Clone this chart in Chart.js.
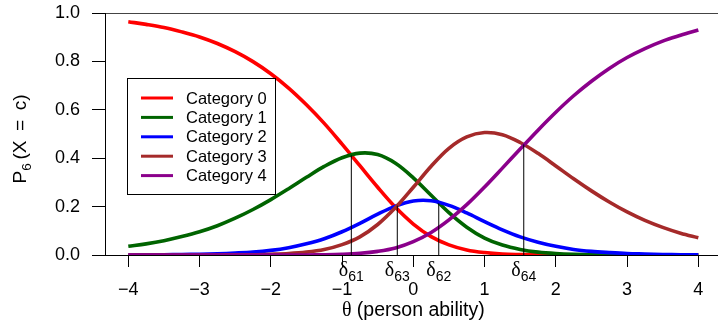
<!DOCTYPE html>
<html>
<head>
<meta charset="utf-8">
<script src="https://cdn.jsdelivr.net/npm/chart.js@4.4.1/dist/chart.umd.min.js"></script>
<style>
  html, body { margin: 0; padding: 0; background: #fff; overflow: hidden; }
  #wrap { width: 718px; height: 326px; }
</style>
</head>
<body>
<div id="wrap"><canvas id="pcmChart" width="718" height="326"></canvas></div>
<script>
// ability grid (theta) and category probabilities
var theta = [-4, -3.75, -3.5, -3.25, -3, -2.75, -2.5, -2.25, -2, -1.75, -1.5, -1.25, -1, -0.75, -0.5, -0.25,
             0, 0.25, 0.5, 0.75, 1, 1.25, 1.5, 1.75, 2, 2.25, 2.5, 2.75, 3, 3.25, 3.5, 3.75, 4];

var cat0 = [0.964, 0.953, 0.940, 0.922, 0.901, 0.874, 0.840, 0.799, 0.749, 0.690, 0.621, 0.544, 0.458, 0.369, 0.280, 0.197,
            0.128, 0.076, 0.042, 0.021, 0.010, 0.004, 0.002, 0.001, 0.000, 0.000, 0.000, 0.000, 0.000, 0.000, 0.000, 0.000, 0.000];
var cat1 = [0.036, 0.046, 0.059, 0.076, 0.096, 0.121, 0.152, 0.188, 0.229, 0.274, 0.321, 0.366, 0.402, 0.421, 0.415, 0.379,
            0.319, 0.247, 0.175, 0.115, 0.070, 0.041, 0.023, 0.012, 0.006, 0.003, 0.002, 0.001, 0.000, 0.000, 0.000, 0.000, 0.000];
var cat2 = [0.000, 0.001, 0.001, 0.002, 0.003, 0.005, 0.008, 0.012, 0.019, 0.030, 0.046, 0.067, 0.096, 0.131, 0.169, 0.202,
            0.223, 0.224, 0.205, 0.174, 0.138, 0.104, 0.075, 0.053, 0.036, 0.023, 0.015, 0.010, 0.006, 0.004, 0.002, 0.001, 0.001];
var cat3 = [0.000, 0.000, 0.000, 0.000, 0.000, 0.000, 0.001, 0.001, 0.003, 0.006, 0.012, 0.023, 0.043, 0.075, 0.126, 0.196,
            0.280, 0.367, 0.441, 0.488, 0.506, 0.497, 0.465, 0.420, 0.368, 0.315, 0.265, 0.219, 0.178, 0.143, 0.114, 0.090, 0.071];
var cat4 = [0.000, 0.000, 0.000, 0.000, 0.000, 0.000, 0.000, 0.000, 0.000, 0.000, 0.000, 0.001, 0.003, 0.007, 0.015, 0.029,
            0.055, 0.093, 0.145, 0.208, 0.281, 0.359, 0.438, 0.516, 0.590, 0.658, 0.718, 0.771, 0.816, 0.853, 0.884, 0.908, 0.930];

var categoryNames = ['Category 0', 'Category 1', 'Category 2', 'Category 3', 'Category 4'];
var categoryColors = ['#ff0000', '#006400', '#0000ff', '#a52a2a', '#8b008b'];

// thresholds (where neighbouring curves cross) and height of the drop line
var deltaPos = [-0.87, -0.225, 0.357, 1.55];
var deltaHeight = [0.412, 0.204, 0.214, 0.457];
var deltaNames = ['61', '63', '62', '64'];

var xTicks = [-4, -3, -2, -1, 0, 1, 2, 3, 4];
var yTicks = [0, 0.2, 0.4, 0.6, 0.8, 1.0];

var sans = '"Liberation Sans", Arial, sans-serif';
var serif = '"Liberation Serif", "DejaVu Serif", serif';

function toPoints(values) {
    return values.map(function (v, i) { return { x: theta[i], y: v }; });
}

var datasets = [];
[cat0, cat1, cat2, cat3, cat4].forEach(function (values, i) {
    datasets.push({
        label: categoryNames[i],
        data: toPoints(values),
        borderColor: categoryColors[i],
        borderWidth: 3.6,
        pointRadius: 0,
        tension: 0.35,
        fill: false,
        order: 10 - i
    });
});

// thin vertical lines at each threshold
deltaPos.forEach(function (d, i) {
    datasets.push({
        label: 'delta' + deltaNames[i],
        data: [{ x: d, y: 0 }, { x: d, y: deltaHeight[i] }],
        borderColor: '#000',
        borderWidth: 1,
        pointRadius: 0,
        fill: false,
        order: 0
    });
});

// draws a list of [text, font, dy] pieces one after another, centred on 0
function drawPieces(ctx, pieces, baseY) {
    var total = 0;
    pieces.forEach(function (p) { ctx.font = p[1]; total += ctx.measureText(p[0]).width; });
    var x = -total / 2;
    pieces.forEach(function (p) {
        ctx.font = p[1];
        ctx.fillText(p[0], x, baseY + p[2]);
        x += ctx.measureText(p[0]).width;
    });
}

// legend, threshold labels and axis titles drawn on the canvas
var extras = {
    id: 'extras',
    afterDraw: function (chart) {
        var ctx = chart.ctx;
        var xs = chart.scales.x;
        ctx.save();

        // legend box
        ctx.strokeStyle = '#000';
        ctx.lineWidth = 1;
        ctx.strokeRect(127.5, 78.5, 148, 116);
        ctx.font = '16.5px ' + sans;
        ctx.textBaseline = 'middle';
        ctx.textAlign = 'left';
        for (var i = 0; i < categoryNames.length; i++) {
            var yy = 98 + i * 19.4;
            ctx.strokeStyle = categoryColors[i];
            ctx.lineWidth = 3;
            ctx.beginPath();
            ctx.moveTo(141, yy);
            ctx.lineTo(173, yy);
            ctx.stroke();
            ctx.fillStyle = '#000';
            ctx.fillText(categoryNames[i], 186, yy + 1);
        }

        // delta labels under the axis
        ctx.fillStyle = '#000';
        ctx.textBaseline = 'alphabetic';
        deltaPos.forEach(function (d, i) {
            ctx.save();
            ctx.translate(xs.getPixelForValue(d), 0);
            drawPieces(ctx, [['\u03b4', '20px ' + serif, 0], [deltaNames[i], '14px ' + sans, 5]], 276);
            ctx.restore();
        });

        // x title
        ctx.save();
        ctx.translate((xs.getPixelForValue(-4) + xs.getPixelForValue(4)) / 2, 0);
        drawPieces(ctx, [['\u03b8', '20px ' + serif, 0], [' (person ability)', '19.5px ' + sans, 0]], 316);
        ctx.restore();

        // y title, rotated
        ctx.translate(26, 139);
        ctx.rotate(-Math.PI / 2);
        drawPieces(ctx, [
            ['P', '19px ' + sans, 0],
            ['6', '13.5px ' + sans, 5],
            ['\u2009(X\u2002=\u2002c)', '19px ' + sans, 0]
        ], 0);

        ctx.restore();
    }
};

var chart = new Chart(document.getElementById('pcmChart').getContext('2d'), {
    type: 'line',
    data: { datasets: datasets },
    options: {
        responsive: false,
        animation: false,
        layout: { padding: { top: 13, right: 0, bottom: 0, left: 0 } },
        plugins: {
            legend: { display: false },
            tooltip: { enabled: false }
        },
        scales: {
            x: {
                type: 'linear',
                min: -4.327,
                max: 4.276,
                afterBuildTicks: function (scale) {
                    scale.ticks = xTicks.map(function (v) { return { value: v }; });
                },
                afterFit: function (scale) {
                    scale.height = 71;
                    scale.paddingLeft = 0;
                    scale.paddingRight = 0;
                },
                border: { display: true, color: '#000', width: 1 },
                grid: { drawOnChartArea: false, tickLength: 12, tickColor: '#000' },
                ticks: {
                    color: '#000',
                    padding: 12,
                    font: { family: sans, size: 18 },
                    callback: function (v) { return v < 0 ? '\u2212' + Math.abs(v) : String(v); }
                }
            },
            y: {
                min: 0,
                max: 1,
                afterBuildTicks: function (scale) {
                    scale.ticks = yTicks.map(function (v) { return { value: v }; });
                },
                afterFit: function (scale) {
                    scale.width = 105;
                    scale.paddingTop = 0;
                    scale.paddingBottom = 0;
                },
                border: { display: true, color: '#000', width: 1 },
                grid: {
                    tickLength: 13,
                    tickColor: '#000',
                    color: function (c) {
                        return (c.tick && (c.tick.value === 1)) ? '#444' : 'rgba(0,0,0,0)';
                    }
                },
                ticks: {
                    color: '#000',
                    padding: 12,
                    font: { family: sans, size: 18 },
                    callback: function (v) { return Number(v).toFixed(1); }
                }
            }
        }
    },
    plugins: [extras]
});
</script>
</body>
</html>
